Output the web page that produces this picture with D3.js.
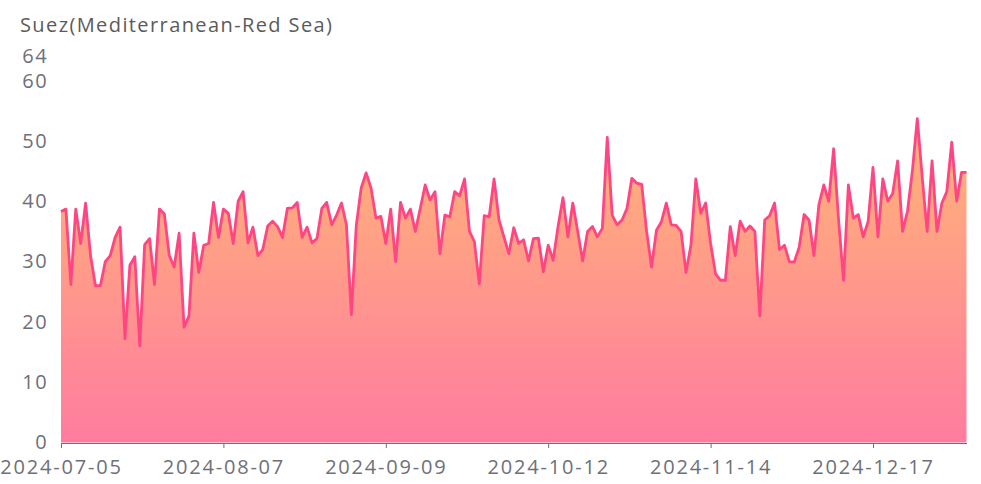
<!DOCTYPE html>
<html>
<head>
<meta charset="utf-8">
<script src="https://cdn.jsdelivr.net/npm/d3@7/dist/d3.min.js"></script>
<style>
  html, body { margin: 0; padding: 0; background: #ffffff; }
  svg { display: block; }
</style>
</head>
<body>
<div id="chart"></div>
<script>
// ---- data ----
const title = "Suez(Mediterranean-Red Sea)";
const startDate = "2024-07-05";
const values = [
  38.3,38.7,26.2,38.7,33,39.7,31,26,26,30,
  31,34,35.7,17.2,29.4,30.8,16,32.8,33.8,26.2,
  38.7,37.9,31,29.1,34.7,19.1,21,34.7,28.2,32.7,
  33,39.8,34,38.7,38,33,40,41.6,33.1,35.7,
  31,32,35.9,36.7,35.8,34,38.8,38.9,39.8,34,
  35.7,33.1,33.8,38.8,39.8,36.1,37.7,39.7,36.1,21.2,
  36,42.2,44.7,42.2,37.2,37.5,33,38.7,30,39.8,
  37.2,38.7,35,38.8,42.7,40.2,41.6,31.3,37.7,37.4,
  41.6,40.9,43.7,35,33.3,26.3,37.6,37.4,43.7,36.9,
  34.1,31.3,35.6,33,33.6,30.1,33.8,33.9,28.3,32.7,
  30.2,35.8,40.6,34.1,39.7,35,30.1,35,35.8,34.1,
  35.5,50.6,37.7,36.1,36.9,38.8,43.8,43,42.8,35,
  29.1,35.2,36.6,39.7,36.1,36,35,28.2,32.7,43.7,
  38,39.7,33,28,26.9,26.9,35.8,31,36.7,35,
  35.9,35,21,36.9,37.6,39.7,32,32.7,30,29.9,
  32.4,37.8,36.9,31,39.4,42.7,40,48.7,37,26.9,
  42.7,37.2,37.8,34.1,36.6,45.6,34.1,43.7,40,41.3,
  46.7,35,38.3,45,53.7,44,35,46.7,35,39.7,
  41.6,49.8,40,44.8,44.8
];
const xTickLabels = ["2024-07-05","2024-08-07","2024-09-09","2024-10-12","2024-11-14","2024-12-17"];
const yTickValues = [0,10,20,30,40,50,60,64];
const yMax = 64;

// categories: one per day
const fmt = d3.timeFormat("%Y-%m-%d");
const start = d3.timeParse("%Y-%m-%d")(startDate);
const categories = values.map((v, i) => fmt(d3.timeDay.offset(start, i)));
const data = categories.map((c, i) => ({ c, v: values[i] }));

// ---- layout ----
const W = 981, H = 484;
const plotLeft = 61, plotRight = 966.5, plotTop = 56.5, plotBottom = 442.5;

const svg = d3.select("#chart").append("svg")
  .attr("width", W).attr("height", H);

const x = d3.scalePoint().domain(categories).range([plotLeft, plotRight]);
const y = d3.scaleLinear().domain([0, yMax]).range([plotBottom, plotTop]);

const defs = svg.append("defs");
const grad = defs.append("linearGradient")
  .attr("id", "areaGrad").attr("x1", 0).attr("y1", 0).attr("x2", 0).attr("y2", 1);
grad.append("stop").attr("offset", "0%").attr("stop-color", "rgb(255,182,118)");
grad.append("stop").attr("offset", "100%").attr("stop-color", "rgb(255,124,160)");

const area = d3.area().x(d => x(d.c)).y0(y(0)).y1(d => y(d.v));
const line = d3.line().x(d => x(d.c)).y(d => y(d.v));

svg.append("path").datum(data)
  .attr("d", area).attr("fill", "url(#areaGrad)");

// x axis
const xAxis = svg.append("g")
  .attr("transform", `translate(0,${plotBottom + 0.5})`)
  .call(d3.axisBottom(x).tickValues(xTickLabels).tickSize(5).tickSizeOuter(0).tickPadding(12));
xAxis.select(".domain").attr("stroke", "#6E7079").attr("stroke-width", 1);
xAxis.selectAll(".tick line").attr("stroke", "#6E7079");
xAxis.selectAll(".tick text")
  .attr("fill", "#6E7079")
  .style("font-family", "'Open Sans', sans-serif")
  .style("font-size", "20px")
  .style("letter-spacing", "1.8px");

svg.append("path").datum(data)
  .attr("d", line)
  .attr("fill", "none")
  .attr("stroke", "rgb(255,70,131)")
  .attr("stroke-width", 2.8)
  .attr("stroke-linejoin", "round");

// y axis
const yAxis = svg.append("g")
  .attr("transform", `translate(${plotLeft - 13},0)`)
  .call(d3.axisLeft(y).tickValues(yTickValues).tickSize(0).tickPadding(0));
yAxis.select(".domain").remove();
yAxis.selectAll(".tick text")
  .attr("fill", "#6E7079")
  .style("font-family", "'Open Sans', sans-serif")
  .style("font-size", "20px")
  .style("letter-spacing", "1.4px");

// title (axis name)
svg.append("text")
  .attr("x", 20).attr("y", 32)
  .attr("fill", "#5b5b5b")
  .style("font-family", "'Open Sans', sans-serif")
  .style("font-size", "20px")
  .style("letter-spacing", "1.4px")
  .text(title);
</script>
</body>
</html>
